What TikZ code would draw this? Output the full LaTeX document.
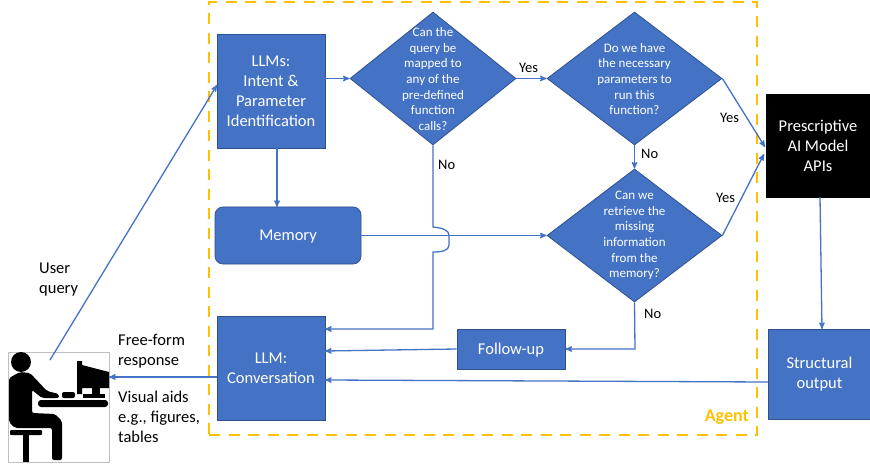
\documentclass[tikz,border=0pt]{standalone}
\usepackage{fontspec}
\setmainfont{Carlito}
\usepackage{xcolor}
\usetikzlibrary{shapes}
\usetikzlibrary{shapes.geometric}
\usetikzlibrary{arrows}
\definecolor{boxblue}{HTML}{4472C4}
\definecolor{boxedge}{HTML}{2F528F}
\definecolor{agentgold}{HTML}{FFC000}
\tikzset{
	main box/.style={rectangle,draw=boxedge,fill=boxblue,text=white,align=center,inner sep=0pt,line width=0.8pt,font=\fontsize{16.5}{20}\selectfont},
	main diamond/.style={diamond,draw=boxedge,fill=boxblue,inner sep=0pt,line width=0.8pt,minimum width=175pt,minimum height=133pt},
	diamond text/.style={text=white,align=center,inner sep=0pt,font=\fontsize{13}{15.6}\selectfont},
	plain label/.style={align=left,inner sep=0pt,anchor=west,font=\fontsize{14.5}{19.5}\selectfont},
	side label/.style={plain label,font=\fontsize{16.5}{20}\selectfont},
	link/.style={->,>=stealth',draw=boxblue,line width=1.3pt},
	person/.style={fill=black,draw=none}
}
\begin{document}
\begin{tikzpicture}[x=1pt,y=-1pt]
	\useasboundingbox (0,0) rectangle (870,465);
	\fill[white] (0,0) rectangle (870,465);
	% agent frame
	\node [draw=agentgold,dashed,dash pattern=on 11pt off 8.5pt,line width=2.4pt,minimum width=548pt,minimum height=433pt,inner sep=0pt] (agent) at (483,218.5) {};
	\node [anchor=east,inner sep=0pt,text=agentgold,font=\fontsize{18}{20}\selectfont\bfseries] (agentname) at (749,417) {Agent};
	% boxes
	\node [main box,minimum width=108pt,minimum height=114pt] (llms) at (271,91) {LLMs:\\Intent \&\\Parameter\\Identification};
	\node [main box,rounded corners=8pt,minimum width=146pt,minimum height=57pt,text height=13.5pt,text depth=3pt] (memory) at (288,235.5) {Memory};
	\node [main box,minimum width=108pt,minimum height=104pt] (conv) at (271,368) {LLM:\\Conversation};
	\node [main box,minimum width=108pt,minimum height=40pt,text height=13.5pt,text depth=3pt] (followup) at (511,349) {Follow-up};
	\node [main box,fill=black,draw=black,minimum width=104pt,minimum height=103pt] (apis) at (818,145.5) {Prescriptive\\AI Model\\APIs};
	\node [main box,minimum width=102pt,minimum height=90pt] (structural) at (819.5,374) {Structural\\output};
	% decisions
	\node [main diamond,minimum width=166pt] (mapped) at (433,78.5) {};
	\node [diamond text] (mappedtext) at (433,79) {Can the\\query be\\mapped to\\any of the\\pre-defined\\function\\calls?};
	\node [main diamond] (params) at (634.5,78.5) {};
	\node [diamond text] (paramstext) at (634.5,79) {Do we have\\the necessary\\parameters to\\run this\\function?};
	\node [main diamond] (retrieve) at (634.5,235.5) {};
	\node [diamond text] (retrievetext) at (634.5,235.5) {Can we\\retrieve the\\missing\\information\\from the\\memory?};
	% user at the desk
	\node [draw=black!25,fill=white,line width=0.6pt,minimum width=101pt,minimum height=110pt,inner sep=0pt] (user) at (58.5,407) {};
	\fill[person] (21,362) circle (10);
	\fill[person,rounded corners=2pt] (9,378) -- (20,372) -- (30,373) -- (47,391) -- (59,394) -- (59,398) -- (42,398) -- (32,390) -- (32,413) -- (55,414) -- (62,421) -- (62,460) -- (52,460) -- (52,428) -- (15,428) -- (9,422) -- cycle;
	\fill[person,rounded corners=1pt] (10,430) rectangle (42,435);
	\fill[person] (23,435) rectangle (29,462);
	\fill[person,rounded corners=3pt] (38,400) rectangle (108,407);
	\fill[person,rounded corners=2pt] (62,392) rectangle (75,398);
	\fill[person] (77,361) -- (82,361) -- (82,365) -- (109,372) -- (109,388) -- (82,388) -- (82,394) -- (77,394) -- cycle;
	\fill[person] (92,388) rectangle (100,394);
	\fill[person] (83,394) rectangle (105,398);
	% coordinates
	\coordinate (usertop) at (50,360);
	\coordinate (llmsin) at (217,85);
	\coordinate (llmsout) at (277,148);
	\coordinate (memoryin) at (277,207);
	\coordinate (apisupper) at (765,147);
	\coordinate (apislower) at (764,154);
	\coordinate (apisout) at (820,197);
	\coordinate (structuralin) at (822,329);
	\coordinate (structuralout) at (768,382);
	\coordinate (jumptop) at (433,227);
	\coordinate (jumpbot) at (433,252);
	\coordinate (convtop) at (325,329);
	\coordinate (convmid) at (325,351);
	\coordinate (convlow) at (325,380);
	\coordinate (convout) at (217,377);
	\coordinate (userin) at (109,377);
	\coordinate (noturn) at (635,349);
	\coordinate (noelbow) at (433,329);
	% connectors
	\draw [link] (usertop) -- (llmsin);
	\draw [link] (llms.east|-mapped.west) -- (mapped.west);
	\draw [link] (mapped.east) -- (params.west);
	\draw [link] (params.south) -- (retrieve.north);
	\draw [link] (params.east) -- (apisupper);
	\draw [link] (retrieve.east) -- (apislower);
	\draw [link] (llmsout) -- (memoryin);
	\draw [link] (memory.east) -- (retrieve.west);
	\draw [link] (mapped.south) -- (jumptop) .. controls (441,228) and (449,229) .. (449,236) -- (449,245) .. controls (449,251) and (441,252) .. (jumpbot) -- (noelbow) -- (convtop);
	\draw [link] (retrieve.south) -- (noturn) -- (followup.east);
	\draw [link] (followup.west) -- (convmid);
	\draw [link] (structuralout) -- (convlow);
	\draw [link] (convout) -- (userin);
	\draw [link] (apisout) -- (structuralin);
	% labels
	\node [side label] (userquery) at (39,280) {User\\query};
	\node [side label] (freeform) at (118,351) {Free-form\\response};
	\node [side label] (visual) at (118,416.5) {Visual aids\\e.g., figures,\\tables};
	\node [plain label] (yesmapped) at (519,68) {Yes};
	\node [plain label] (nomapped) at (438,165) {No};
	\node [plain label] (yesparams) at (720,118) {Yes};
	\node [plain label] (noparams) at (641,154) {No};
	\node [plain label] (yesretrieve) at (716,198) {Yes};
	\node [plain label] (noretrieve) at (644,314) {No};
\end{tikzpicture}
\end{document}
